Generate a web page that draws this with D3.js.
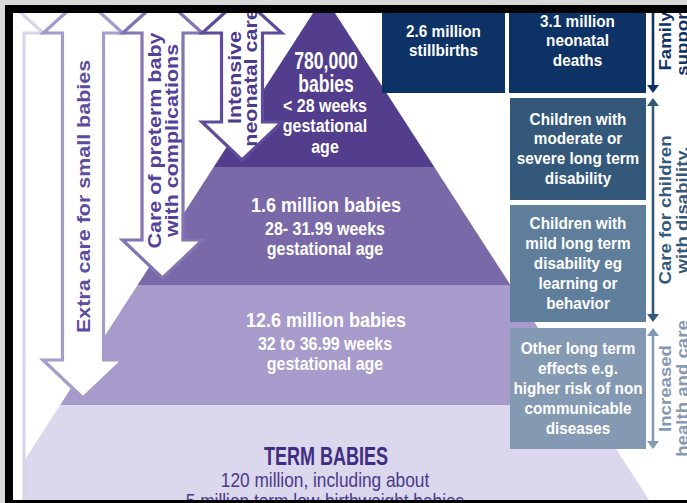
<!DOCTYPE html>
<html>
<head>
<meta charset="utf-8">
<script src="https://cdn.jsdelivr.net/npm/d3@7"></script>
<style>
  body { margin: 0; background: #d9d9d9; }
  svg { display: block; }
  text { font-family: "Liberation Sans", Arial, Helvetica, sans-serif; }
</style>
</head>
<body>
<svg id="chart"></svg>
<script>
// --------------------------------------
// DATA
// --------------------------------------
var tierHeads = [["780,000", "babies"], ["1.6 million babies"], ["12.6 million babies"], ["TERM BABIES"]];
var tierSubs = [
    ["< 28 weeks", "gestational", "age"],
    ["28- 31.99 weeks", "gestational age"],
    ["32 to 36.99 weeks", "gestational age"],
    ["120 million, including about", "5 million term low-birthweight babies"]
];
// care arrows, first one is the pale arrow for term babies (no label)
var careArrows = [[], ["Extra care for small babies"], ["Care of preterm baby", "with complications"], ["Intensive", "neonatal care"]];
var arrowEnds = [4.3, 3, 2, 1];   // tier boundary each arrow reaches

var outcomeBoxes = [
    ["2.6 million", "stillbirths"],
    ["3.1 million", "neonatal", "deaths"],
    ["Children with", "moderate or", "severe long term", "disability"],
    ["Children with", "mild long term", "disability eg", "learning or", "behavior"],
    ["Other long term", "effects e.g.", "higher risk of non", "communicable", "diseases"]
];
var sideLabels = [["Family", "support"], ["Care for children", "with disability."], ["Increased", "health and care"]];

// colours
var tierColors = ["#523e8c", "#7a69a8", "#a69bca", "#dbd7ec"];
var arrowColors = ["#d9d4ea", "#a69cca", "#8374b2", "#5f4d9b"];
var arrowText = ["#5c4d9e", "#5c4d9e", "#52429a", "#4b3b8b"];
var boxColors = ["#0d3366", "#0d3366", "#34587a", "#5e7e9b", "#8499b2"];
var sideColors = ["#0d3366", "#34587a", "#8499b2"];

// --------------------------------------
// CONFIG
// --------------------------------------
var W = 687, H = 503, SY = 1.13;
var svg = d3.select("#chart").attr("width", W).attr("height", H).style("background", "#fff");

var yTier = d3.scaleLinear().domain([0, 1, 2, 3, 4]).range([-4, 167, 285, 405, 525]);
var cx = 324, slope = 0.645;
function half(y) { return (y - yTier(0)) * slope; }

var xArrow = d3.scaleLinear().domain([1, 3]).range([83, 242]);
var shaftHalf = 20.5, headHalf = 40, headLen = 38, flapY = 33;

// UTIL
function textBlock(g, lines, o) {
    var sy = o.sy || SY;
    var t = g.append("text")
        .attr("text-anchor", "middle")
        .attr("font-size", o.size)
        .attr("font-weight", o.weight || "bold")
        .attr("fill", o.fill)
        .attr("transform", "translate(" + o.x + "," + o.y + ") scale(" + (o.sx || 1) + "," + sy + ")" + (o.rotate ? " rotate(-90)" : ""));
    t.selectAll("tspan").data(lines).join("tspan")
        .attr("x", 0)
        .attr("dy", function(d, i) { return i ? (o.rotate ? o.lh : o.lh / sy) : 0; })
        .text(function(d) { return d; });
    return t;
}

// --------------------------------------
// Pyramid
// --------------------------------------
var gPyr = svg.append("g");
gPyr.selectAll("path").data(tierColors).join("path")
    .attr("fill", function(d) { return d; })
    .attr("d", function(d, i) {
        var y0 = yTier(i), y1 = yTier(i + 1);
        return d3.line()([[cx - half(y0), y0], [cx + half(y0), y0], [cx + half(y1), y1], [cx - half(y1), y1]]) + "Z";
    });

// --------------------------------------
// Care arrows
// --------------------------------------
var gArr = svg.append("g");
careArrows.forEach(function(lines, i) {
    var c = i === 0 ? xArrow(1) - (xArrow(2) - xArrow(1)) : xArrow(i);
    var step = (xArrow(3) - xArrow(1)) / 2;
    var L = c - shaftHalf, R = c + shaftHalf;
    var fl = c - step / 2, fr = c + step / 2;
    var tip = yTier(arrowEnds[i]) - 7, B = tip - headLen;
    var arm = 31;
    var pts = [[fl + arm, 5], [fl, flapY], [L, flapY], [L, B], [c - headHalf, B], [c, tip],
               [c + headHalf, B], [R, B], [R, flapY], [fr, flapY], [fr - arm, 5]];
    gArr.append("path")
        .attr("d", d3.line()(pts))
        .attr("fill", "#fff")
        .attr("stroke", arrowColors[i])
        .attr("stroke-width", 3.2)
        .attr("stroke-linejoin", "miter");

    if (lines.length) {
        var lh = 16.5;
        textBlock(gArr, lines, {
            x: c + 6.8 - (lines.length - 1) * lh / 2,
            y: (flapY + B) / 2 + (lines.length - 1) * (i === 2 ? 4 : 0),
            size: 19, lh: lh, rotate: true, fill: arrowText[i]
        });
    }
});

// --------------------------------------
// Tier labels
// --------------------------------------
var tierText = [
    { head: 73, hs: 20, hsx: 0.88, hsy: 1.15, hlh: 23, sub: 116, slh: 20.5, fill: "#fff" },
    { head: 45, hs: 18, sub: 68, slh: 20, fill: "#fff" },
    { head: 42, hs: 18, sub: 65, slh: 20, fill: "#fff" },
    { head: 60, hs: 22, hsx: 0.82, sub: 82, slh: 21, fill: "#3e2d80", subFill: "#4a3a8a", subWeight: "normal", subSize: 17.3 }
];
var gTier = svg.append("g");
tierHeads.forEach(function(lines, i) {
    var s = tierText[i];
    textBlock(gTier, lines, { x: 326, y: yTier(i) + s.head, size: s.hs, sx: s.hsx, sy: s.hsy, lh: s.hlh || 0, fill: s.fill });
    textBlock(gTier, tierSubs[i], { x: 325, y: yTier(i) + s.sub, size: s.subSize || 16, lh: s.slh,
        weight: s.subWeight, fill: s.subFill || s.fill });
});

// --------------------------------------
// Outcome boxes
// --------------------------------------
var boxLayout = [
    { x0: 382, x1: 505, y0: -11, y1: 93 },
    { x0: 509, x1: 646, y0: -11, y1: 93 },
    { x0: 510, x1: 646, y0: 98, y1: 200 },
    { x0: 510, x1: 646, y0: 205, y1: 322 },
    { x0: 510, x1: 646, y0: 328, y1: 449 }
];
var gBox = svg.append("g");
outcomeBoxes.forEach(function(lines, i) {
    var b = boxLayout[i], lh = 20;
    gBox.append("rect")
        .attr("x", b.x0).attr("y", b.y0)
        .attr("width", b.x1 - b.x0).attr("height", b.y1 - b.y0)
        .attr("fill", boxColors[i]);
    var mid = (b.y0 + b.y1) / 2;
    textBlock(gBox, lines, {
        x: (b.x0 + b.x1) / 2,
        y: mid - (lines.length - 1) * lh / 2 + 5.5,
        size: 15.3, lh: lh, fill: "#fff"
    });
});

// --------------------------------------
// Side arrows + labels
// --------------------------------------
var sideRows = [[-11, 93, false], [98, 322, true], [328, 449, true]];
var gSide = svg.append("g");
var sx = 653;
sideLabels.forEach(function(lines, i) {
    var r = sideRows[i], col = sideColors[i];
    gSide.append("line")
        .attr("x1", sx).attr("x2", sx)
        .attr("y1", r[0] + (r[2] ? 5 : 0)).attr("y2", r[1] - 5)
        .attr("stroke", col).attr("stroke-width", 2.6);
    gSide.append("path")
        .attr("d", d3.line()([[sx - 6, r[1] - 8], [sx + 6, r[1] - 8], [sx, r[1]]]) + "Z")
        .attr("fill", col);
    if (r[2]) {
        gSide.append("path")
            .attr("d", d3.line()([[sx - 6, r[0] + 8], [sx + 6, r[0] + 8], [sx, r[0]]]) + "Z")
            .attr("fill", col);
    }
    textBlock(gSide, lines, { x: 671, y: (r[0] + r[1]) / 2, size: 16.5, lh: 17, rotate: true, fill: col });
});

// --------------------------------------
// Frame
// --------------------------------------
var gFrame = svg.append("g");
gFrame.append("rect").attr("x", 0).attr("y", 0).attr("width", W).attr("height", 5).attr("fill", "#d9d9d9");
gFrame.append("rect").attr("x", 0).attr("y", 0).attr("width", 5).attr("height", H).attr("fill", "#d9d9d9");
gFrame.append("rect").attr("x", 5).attr("y", 5).attr("width", W - 5).attr("height", 8).attr("fill", "#000");
gFrame.append("rect").attr("x", 5).attr("y", 5).attr("width", 8).attr("height", H - 5).attr("fill", "#000");
gFrame.append("rect").attr("x", 5).attr("y", 500).attr("width", W - 5).attr("height", 3).attr("fill", "#000");
</script>
</body>
</html>
